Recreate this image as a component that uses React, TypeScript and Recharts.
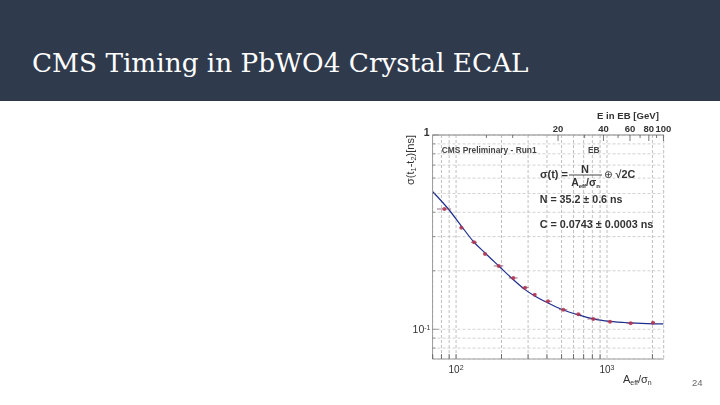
import { ComposedChart, CartesianGrid, ErrorBar, Line, Scatter, XAxis, YAxis } from "recharts"

// values
const pointX = [83.7, 108.4, 131.6, 155.6, 191.8, 239.6, 286.4, 332, 406.7, 513.6, 645.5, 811.4, 1047, 1435, 2017]
const pointY = [0.416, 0.3334, 0.2805, 0.2441, 0.2118, 0.1837, 0.1637, 0.1507, 0.1394, 0.1261, 0.1195, 0.113, 0.1094, 0.1074, 0.1081]
const pointErr = [9, 3, 6, 4, 14, 16, 16, 6, 26, 32, 30, 70, 40, 90, 60]

const fitX = [70.1, 88.9, 108.4, 131.6, 155.6, 191.8, 239.6, 286.4, 332, 406.7, 513.6, 645.5, 811.4, 1047, 1435, 2017, 2367]
const fitY = [0.5106, 0.416, 0.34, 0.2805, 0.247, 0.2118, 0.18, 0.16, 0.1484, 0.1366, 0.1257, 0.1185, 0.113, 0.1097, 0.1078, 0.1067, 0.1065]

const xTicks = [70, 80, 90, 100, 200, 300, 400, 500, 600, 700, 800, 900, 1000, 2000]
const yTicks = [0.08, 0.09, 0.1, 0.2, 0.3, 0.4, 0.5, 0.6, 0.7, 0.8, 0.9, 1]
const energyTicks = [6.7, 10, 20, 30, 40, 50, 60, 70, 80, 90, 100]
const energyLabels = [20, 40, 60, 80, 100]

const points = pointX.map((x, i) => ({ x, y: pointY[i], err: pointErr[i] }))
const fit = fitX.map((x, i) => ({ x, y: fitY[i] }))
// only there so the top axis has a series of its own
const energyAnchor = energyTicks.map((e) => ({ e, y: 1 }))

const sans = "'Liberation Sans', Arial, sans-serif"
const axisColor = "#a0a0a0"

const BottomTick = ({ x, y, payload }: any) => (
  <g>
    {payload.value !== 1000 && <line x1={x} x2={x} y1={y - 5} y2={y} stroke="#555" strokeWidth={0.8} />}
    {(payload.value === 100 || payload.value === 1000) && (
      <text x={x} y={y + 14} textAnchor="middle" fontSize={10} fill="#333" fontFamily={sans}>
        10
        <tspan dy={-3} fontSize={7}>
          {payload.value === 100 ? "2" : "3"}
        </tspan>
      </text>
    )}
  </g>
)

const TopTick = ({ x, y, payload }: any) => (
  <g>
    <line x1={x} x2={x} y1={y} y2={y + (energyLabels.includes(payload.value) ? 6 : 3)} stroke="#555" strokeWidth={0.8} />
    {energyLabels.includes(payload.value) && (
      <text x={x} y={y - 3} textAnchor="middle" fontSize={9.5} fontWeight="bold" fill="#333" fontFamily={sans}>
        {payload.value}
      </text>
    )}
  </g>
)

const LeftTick = ({ x, y, payload }: any) => (
  <g>
    <line x1={x} x2={x + (payload.value === 0.1 || payload.value === 1 ? 6 : 3)} y1={y} y2={y} stroke="#777" strokeWidth={0.7} />
    {payload.value === 1 && (
      <text x={x - 3} y={y + 1} textAnchor="end" fontSize={10.5} fontWeight="bold" fill="#333" fontFamily={sans}>
        1
      </text>
    )}
    {payload.value === 0.1 && (
      <text x={x - 2} y={y + 4} textAnchor="end" fontSize={10.5} fill="#333" fontFamily={sans}>
        10
        <tspan dy={-3} fontSize={7}>
          -1
        </tspan>
      </text>
    )}
  </g>
)

const Dot = ({ cx, cy }: any) => <circle cx={cx} cy={cy} r={2} fill="#b5324f" fillOpacity={0.85} />

export default function App() {
  return (
    <div style={{ position: "absolute", left: 0, top: 0, width: 720, height: 405, background: "#fff", overflow: "hidden" }}>
      <div style={{ position: "absolute", left: 0, top: 0, width: 720, height: 101, background: "#2f3a4d" }} />
      <div
        style={{
          position: "absolute",
          left: 32,
          top: 45,
          color: "#fff",
          fontFamily: "'DejaVu Serif', serif",
          fontSize: 26.3,
          lineHeight: "36px",
          whiteSpace: "nowrap",
        }}
      >
        CMS Timing in PbWO4 Crystal ECAL
      </div>
      <div style={{ position: "absolute", left: 0, top: 0, filter: "blur(0.35px)" }}>
        <ComposedChart width={720} height={405} margin={{ top: 105, right: 56.3, bottom: 16, left: 402.5 }}>
          <CartesianGrid horizontal={false} stroke="#a4a4a4" strokeWidth={0.7} strokeDasharray="3 2" />
          <CartesianGrid vertical={false} stroke="#bebebe" strokeWidth={0.7} strokeDasharray="3 2" />
          <XAxis
            dataKey="x"
            type="number"
            scale="log"
            domain={[69.8, 2375]}
            allowDataOverflow
            ticks={xTicks}
            interval={0}
            height={30}
            stroke={axisColor}
            tickLine={false}
            tickSize={0}
            tickMargin={0}
            tick={<BottomTick />}
          />
          <XAxis
            xAxisId="energy"
            dataKey="e"
            orientation="top"
            type="number"
            scale="log"
            domain={[2.94, 100.4]}
            allowDataOverflow
            ticks={energyTicks}
            interval={0}
            height={30}
            stroke="#888"
            tickLine={false}
            tickSize={0}
            tickMargin={0}
            tick={<TopTick />}
          />
          <YAxis
            dataKey="y"
            type="number"
            scale="log"
            domain={[0.0703, 1]}
            allowDataOverflow
            ticks={yTicks}
            interval={0}
            width={30}
            stroke={axisColor}
            tickLine={false}
            tickSize={0}
            tickMargin={0}
            tick={<LeftTick />}
          />
          <YAxis
            yAxisId="frame"
            orientation="right"
            type="number"
            scale="log"
            domain={[0.0703, 1]}
            allowDataOverflow
            ticks={[]}
            width={0}
            stroke="#8a8a8a"
            tick={false}
          />
          <Line data={energyAnchor} xAxisId="energy" dataKey="y" stroke="none" dot={false} isAnimationActive={false} />
          <Line data={fit} dataKey="y" type="monotone" stroke="#1f2f8f" strokeWidth={1.2} dot={false} isAnimationActive={false} />
          <Scatter data={points} dataKey="y" shape={<Dot />} isAnimationActive={false}>
            <ErrorBar dataKey="err" direction="x" width={0} stroke="#7d4a6a" strokeWidth={0.8} isAnimationActive={false} />
          </Scatter>

          <text x={597} y={119} fontSize={9.6} fontWeight="bold" fill="#333" fontFamily={sans}>
            E in EB [GeV]
          </text>
          <text x={441.7} y={153} fontSize={8.4} fontWeight="bold" fill="#444" fontFamily={sans}>
            CMS Preliminary - Run1
          </text>
          <text x={588} y={153} fontSize={8.4} fontWeight="bold" fill="#444" fontFamily={sans}>
            EB
          </text>
          <text x={540} y={178} fontSize={11} fontWeight="bold" fill="#333" fontFamily={sans}>
            σ(t) =
          </text>
          <text x={585} y={173} textAnchor="middle" fontSize={11} fontWeight="bold" fill="#333" fontFamily={sans}>
            N
          </text>
          <line x1={569} x2={602} y1={175} y2={175} stroke="#333" strokeWidth={0.9} />
          <text x={585.5} y={185.5} textAnchor="middle" fontSize={10.5} fontWeight="bold" fill="#333" fontFamily={sans}>
            A
            <tspan fontSize={6} dy={2}>
              eff
            </tspan>
            <tspan dy={-2}>/σ</tspan>
            <tspan fontSize={6} dy={2}>
              n
            </tspan>
          </text>
          <text x={604} y={178} fontSize={10.5} fill="#444" fontFamily="'DejaVu Sans', sans-serif">
            ⊕
          </text>
          <text x={615.5} y={178} fontSize={10.8} fontWeight="bold" fill="#333" fontFamily={sans}>
            √2C
          </text>
          <text x={539.7} y={203} fontSize={10.7} fontWeight="bold" fill="#333" fontFamily={sans}>
            N = 35.2 ± 0.6 ns
          </text>
          <text x={539.7} y={228} fontSize={10.8} fontWeight="bold" fill="#333" fontFamily={sans}>
            C = 0.0743 ± 0.0003 ns
          </text>
          <text x={623} y={383} fontSize={11} fill="#333" fontFamily={sans}>
            A
            <tspan fontSize={7} dy={2}>
              eff
            </tspan>
            <tspan dy={-2}>/σ</tspan>
            <tspan fontSize={7} dy={2}>
              n
            </tspan>
          </text>
          <text transform="translate(414 185) rotate(-90)" fontSize={11} fill="#333" fontFamily={sans}>
            σ(t
            <tspan fontSize={7.5} dy={2}>
              1
            </tspan>
            <tspan dy={-2}>-t</tspan>
            <tspan fontSize={7.5} dy={2}>
              2
            </tspan>
            <tspan dy={-2}>)[ns]</tspan>
          </text>
          <text x={692} y={386} fontSize={9.5} fill="#666" fontFamily={sans}>
            24
          </text>
        </ComposedChart>
      </div>
    </div>
  )
}
